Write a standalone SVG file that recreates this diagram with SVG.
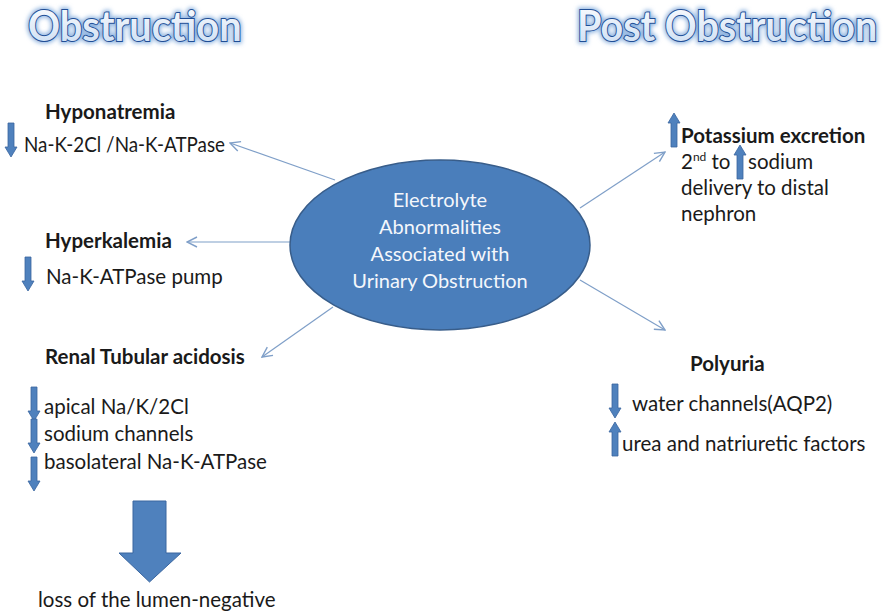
<svg xmlns="http://www.w3.org/2000/svg" width="885" height="612" viewBox="0 0 885 612">
  <defs>
    <style>
      .t { font-family: Lato, "Open Sans", "Liberation Sans", sans-serif; font-size: 20.5px; fill: #1a1a1a; }
      .b { font-weight: bold; }
      .c { font-family: Lato, "Open Sans", "Liberation Sans", sans-serif; font-size: 20px; fill: #f4f7fb; text-anchor: middle; }
      .title { font-family: Lato, "Open Sans", "Liberation Sans", sans-serif; font-weight: bold; font-size: 42px; fill: url(#titleFill); stroke: #1f4e96; stroke-width: 2; paint-order: stroke; }
      .glow { font-family: Lato, "Open Sans", "Liberation Sans", sans-serif; font-weight: bold; font-size: 42px; fill: none; stroke: #8fb4e0; stroke-width: 5; filter: url(#blur); }
      .link { stroke: #7f9fc8; stroke-width: 1.2; fill: none; marker-end: url(#open); }
      .arr { fill: #4f81bd; stroke: #3a66a0; stroke-width: 0.8; }
    </style>
    <linearGradient id="titleFill" x1="0" y1="0" x2="0" y2="1">
      <stop offset="0" stop-color="#ffffff"/>
      <stop offset="1" stop-color="#c9dcf2"/>
    </linearGradient>
    <filter id="blur" x="-5%" y="-30%" width="110%" height="160%">
      <feGaussianBlur stdDeviation="2"/>
    </filter>
    <marker id="open" viewBox="0 0 12 12" refX="11" refY="6" markerWidth="12" markerHeight="12" markerUnits="userSpaceOnUse" orient="auto">
      <path d="M1,1 L11,6 L1,11" fill="none" stroke="#7f9fc8" stroke-width="1.4"/>
    </marker>
    <!-- small down / up arrows, 12 wide, 34 tall, origin at top-left -->
    <path id="down" d="M3,0 H9 V24 H12 L6,34 L0,24 H3 Z"/>
    <path id="up" d="M3,34 H9 V10 H12 L6,0 L0,10 H3 Z"/>
  </defs>

  <rect width="885" height="612" fill="#ffffff"/>

  <!-- headings (condensed horizontally) -->
  <g id="heading-obstruction" transform="translate(28,41) scale(0.945,1)">
    <text class="glow" x="0" y="0">Obstruction</text>
    <text class="title" x="0" y="0">Obstruction</text>
  </g>
  <g id="heading-post" transform="translate(577,41) scale(0.94,1)">
    <text class="glow" x="0" y="0">Post Obstruction</text>
    <text class="title" x="0" y="0">Post Obstruction</text>
  </g>

  <!-- connectors -->
  <g id="connectors">
    <line class="link" x1="335" y1="180" x2="230" y2="143"/>
    <line class="link" x1="290" y1="242" x2="187" y2="242"/>
    <line class="link" x1="333" y1="307" x2="262" y2="357"/>
    <line class="link" x1="580" y1="208" x2="665" y2="152"/>
    <line class="link" x1="580" y1="280" x2="665" y2="330"/>
  </g>

  <!-- central node -->
  <g id="center">
    <ellipse cx="440" cy="245" rx="150" ry="85" fill="#4a7ebb" stroke="#385d8a" stroke-width="1.5"/>
    <text class="c" x="440" y="207">Electrolyte</text>
    <text class="c" x="440" y="234">Abnormalities</text>
    <text class="c" x="440" y="261">Associated with</text>
    <text class="c" x="440" y="288">Urinary Obstruction</text>
  </g>

  <!-- left column -->
  <g id="hyponatremia">
    <text class="t b" x="45" y="119">Hyponatremia</text>
    <use href="#down" class="arr" x="5" y="123"/>
    <text class="t" x="24" y="152" textLength="201" lengthAdjust="spacingAndGlyphs">Na-K-2Cl /Na-K-ATPase</text>
  </g>

  <g id="hyperkalemia">
    <text class="t b" x="45" y="248">Hyperkalemia</text>
    <use href="#down" class="arr" x="22" y="257"/>
    <text class="t" x="46" y="284">Na-K-ATPase pump</text>
  </g>

  <g id="rta">
    <text class="t b" x="45" y="364">Renal Tubular acidosis</text>
    <use href="#down" class="arr" x="28" y="387"/>
    <use href="#down" class="arr" x="28" y="419"/>
    <use href="#down" class="arr" x="28" y="457"/>
    <text class="t" x="44" y="414">apical Na/K/2Cl</text>
    <text class="t" x="44" y="441">sodium channels</text>
    <text class="t" x="44" y="469">basolateral Na-K-ATPase</text>
  </g>

  <g id="rta-result">
    <path d="M133,501 H166 V553 H181 L149.5,582 L119,553 H133 Z" fill="#4f81bd" stroke="#3a66a0" stroke-width="1"/>
    <text class="t" x="38" y="607">loss of the lumen-negative</text>
  </g>

  <!-- right column -->
  <g id="potassium">
    <use href="#up" class="arr" x="668" y="113"/>
    <text class="t b" x="681" y="143">Potassium excretion</text>
    <text class="t" x="681" y="169">2<tspan font-size="12" dy="-8">nd</tspan><tspan dy="8"> to</tspan></text>
    <use href="#up" class="arr" x="734" y="145"/>
    <text class="t" x="748" y="169">sodium</text>
    <text class="t" x="681" y="195">delivery to distal</text>
    <text class="t" x="681" y="221">nephron</text>
  </g>

  <g id="polyuria">
    <text class="t b" x="690" y="371">Polyuria</text>
    <use href="#down" class="arr" x="609" y="384"/>
    <text class="t" x="632" y="411">water channels(AQP2)</text>
    <use href="#up" class="arr" x="609" y="422"/>
    <text class="t" x="622" y="451">urea and natriuretic factors</text>
  </g>
</svg>
